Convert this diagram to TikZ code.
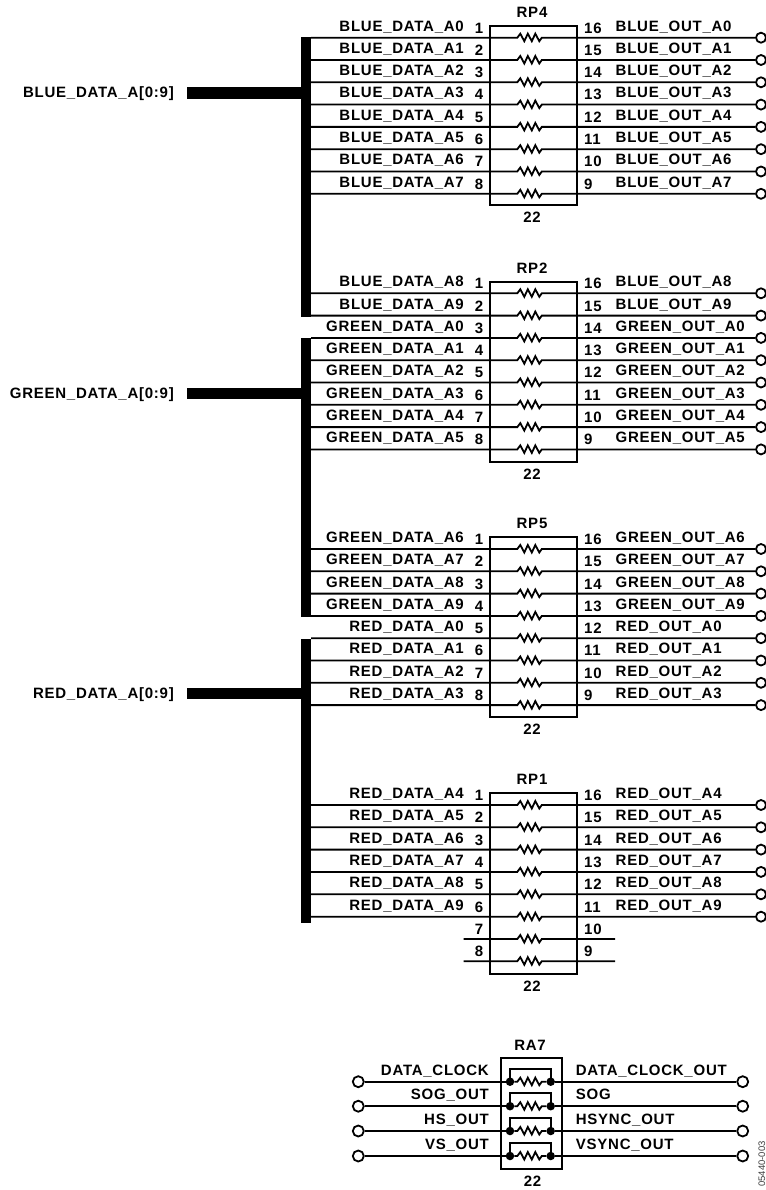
\documentclass[tikz,border=0pt]{standalone}
\usepackage{fontspec}
\setmainfont{Liberation Sans}[BoldFont={Liberation Sans Bold}]
\newfontfamily\lblfont{Liberation Sans Bold}[LetterSpace=5]
\newfontfamily\smallfont{Liberation Sans}
\tikzset{
  wire/.style={line width=1.8pt,line join=miter},
  partbox/.style={draw,line width=1.8pt,minimum width=87pt,anchor=north west,inner sep=0pt},
  lbl/.style={inner sep=0pt,font=\lblfont\fontsize{15}{15}\selectfont},
  lblR/.style={lbl,anchor=base east},
  lblL/.style={lbl,anchor=base west},
  lblC/.style={lbl,anchor=base},
  busbar/.style={fill=black,inner sep=0pt,minimum width=10.5pt,anchor=north west},
  stub/.style={line width=11.4pt},
  term/.style={circle,draw,line width=1.8pt,fill=white,inner sep=0pt,minimum size=10pt},
  termbig/.style={circle,draw,line width=1.8pt,fill=white,inner sep=0pt,minimum size=11pt},
  dotn/.style={circle,fill=black,inner sep=0pt,minimum size=8.5pt},
}
\newcommand{\zigz}{-- ++(3,-4) -- ++(4,7.5) -- ++(3.5,-7.5) -- ++(4,7.5) -- ++(3.5,-7.5) -- ++(4,7.5) -- ++(2.5,-3.5)}
% name, y, left label, left num, right num, right label
\newcommand{\drow}[6]{%
  \coordinate (#1a) at (311,#2);
  \coordinate (#1b) at (517.3,#2);
  \coordinate (#1c) at (541.8,#2);
  \node[term] (#1t) at (761,#2) {};
  \draw[wire] (#1a) -- (#1b) \zigz -- (#1t.west);
  \node[lblR] (#1l) at (464,#2-6.6) {#3};
  \node[lblC] (#1n) at (479,#2-4.6) {#4};
  \node[lblL] (#1m) at (584,#2-4.6) {#5};
  \node[lblL] (#1r) at (615.5,#2-6.6) {#6};
}
% name, y, left num, right num (no connection)
\newcommand{\nrow}[4]{%
  \coordinate (#1a) at (463.5,#2);
  \coordinate (#1b) at (517.3,#2);
  \coordinate (#1d) at (615,#2);
  \draw[wire] (#1a) -- (#1b) \zigz -- (#1d);
  \node[lblC] (#1n) at (479,#2-4.6) {#3};
  \node[lblL] (#1m) at (584,#2-4.6) {#4};
}
% name, y, left label, right label
\newcommand{\arow}[4]{%
  \node[termbig] (#1p) at (358.3,#2) {};
  \node[termbig] (#1q) at (742.7,#2) {};
  \node[dotn] (#1u) at (510,#2) {};
  \node[dotn] (#1v) at (550.7,#2) {};
  \coordinate (#1b) at (517.3,#2);
  \draw[wire] (#1p) -- (#1u);
  \draw[wire] (#1u) -- (#1b) \zigz -- (#1v);
  \draw[wire] (#1v) -- (#1q);
  \draw[wire] (#1u.center) -- ++(0,-13) -| (#1v.center);
  \node[lblR] (#1l) at (489,#2-6.7) {#3};
  \node[lblL] (#1r) at (575.7,#2-6.7) {#4};
}
\begin{document}
\begin{tikzpicture}[x=1pt,y=-1pt]
\useasboundingbox (0,0) rectangle (765,1190);
% resistor packs
\node[partbox,minimum height=179pt] (RPfour) at (489,25) {};
\node[partbox,minimum height=180pt] (RPtwo) at (489,281) {};
\node[partbox,minimum height=180pt] (RPfive) at (489,536) {};
\node[partbox,minimum height=181pt] (RPone) at (489,792) {};
\node[lblC] (tRPfour) at (532,17.7) {RP4};
\node[lblC] (tRPtwo) at (532,273) {RP2};
\node[lblC] (tRPfive) at (532,528.5) {RP5};
\node[lblC] (tRPone) at (532,784.5) {RP1};
\node[lblC] (vRPfour) at (532,222.7) {22};
\node[lblC] (vRPtwo) at (532,479) {22};
\node[lblC] (vRPfive) at (532,734.5) {22};
\node[lblC] (vRPone) at (532,991) {22};
% busses
\node[busbar,minimum height=280pt] (busB) at (300.5,37) {};
\node[busbar,minimum height=279pt] (busG) at (300.5,338) {};
\node[busbar,minimum height=284pt] (busR) at (300.5,639) {};
\coordinate (stB) at (187,93);
\coordinate (stG) at (187,393.5);
\coordinate (stR) at (187,693.5);
\draw[stub] (stB) -- (stB -| busB.west);
\draw[stub] (stG) -- (stG -| busG.west);
\draw[stub] (stR) -- (stR -| busR.west);
\node[lblR] (lB) at (174,97.7) {BLUE\_DATA\_A[0:9]};
\node[lblR] (lG) at (174,398) {GREEN\_DATA\_A[0:9]};
\node[lblR] (lR) at (174,698) {RED\_DATA\_A[0:9]};
% RP4
\drow{bA}{37.7}{BLUE\_DATA\_A0}{1}{16}{BLUE\_OUT\_A0}
\drow{bB}{60}{BLUE\_DATA\_A1}{2}{15}{BLUE\_OUT\_A1}
\drow{bC}{82.3}{BLUE\_DATA\_A2}{3}{14}{BLUE\_OUT\_A2}
\drow{bD}{104.6}{BLUE\_DATA\_A3}{4}{13}{BLUE\_OUT\_A3}
\drow{bE}{126.9}{BLUE\_DATA\_A4}{5}{12}{BLUE\_OUT\_A4}
\drow{bF}{149.2}{BLUE\_DATA\_A5}{6}{11}{BLUE\_OUT\_A5}
\drow{bG}{171.5}{BLUE\_DATA\_A6}{7}{10}{BLUE\_OUT\_A6}
\drow{bH}{193.8}{BLUE\_DATA\_A7}{8}{9}{BLUE\_OUT\_A7}
% RP2
\drow{cA}{293.3}{BLUE\_DATA\_A8}{1}{16}{BLUE\_OUT\_A8}
\drow{cB}{315.6}{BLUE\_DATA\_A9}{2}{15}{BLUE\_OUT\_A9}
\drow{cC}{337.9}{GREEN\_DATA\_A0}{3}{14}{GREEN\_OUT\_A0}
\drow{cD}{360.2}{GREEN\_DATA\_A1}{4}{13}{GREEN\_OUT\_A1}
\drow{cE}{382.5}{GREEN\_DATA\_A2}{5}{12}{GREEN\_OUT\_A2}
\drow{cF}{404.8}{GREEN\_DATA\_A3}{6}{11}{GREEN\_OUT\_A3}
\drow{cG}{427.1}{GREEN\_DATA\_A4}{7}{10}{GREEN\_OUT\_A4}
\drow{cH}{449.4}{GREEN\_DATA\_A5}{8}{9}{GREEN\_OUT\_A5}
% RP5
\drow{dA}{549}{GREEN\_DATA\_A6}{1}{16}{GREEN\_OUT\_A6}
\drow{dB}{571.3}{GREEN\_DATA\_A7}{2}{15}{GREEN\_OUT\_A7}
\drow{dC}{593.6}{GREEN\_DATA\_A8}{3}{14}{GREEN\_OUT\_A8}
\drow{dD}{615.9}{GREEN\_DATA\_A9}{4}{13}{GREEN\_OUT\_A9}
\drow{dE}{638.2}{RED\_DATA\_A0}{5}{12}{RED\_OUT\_A0}
\drow{dF}{660.5}{RED\_DATA\_A1}{6}{11}{RED\_OUT\_A1}
\drow{dG}{682.8}{RED\_DATA\_A2}{7}{10}{RED\_OUT\_A2}
\drow{dH}{705.1}{RED\_DATA\_A3}{8}{9}{RED\_OUT\_A3}
% RP1
\drow{eA}{805}{RED\_DATA\_A4}{1}{16}{RED\_OUT\_A4}
\drow{eB}{827.3}{RED\_DATA\_A5}{2}{15}{RED\_OUT\_A5}
\drow{eC}{849.6}{RED\_DATA\_A6}{3}{14}{RED\_OUT\_A6}
\drow{eD}{871.9}{RED\_DATA\_A7}{4}{13}{RED\_OUT\_A7}
\drow{eE}{894.3}{RED\_DATA\_A8}{5}{12}{RED\_OUT\_A8}
\drow{eF}{916.7}{RED\_DATA\_A9}{6}{11}{RED\_OUT\_A9}
\nrow{eG}{939}{7}{10}
\nrow{eH}{961.2}{8}{9}
% RA7
\node[partbox,minimum width=60.5pt,minimum height=111.5pt] (RAseven) at (500.3,1056.7) {};
\node[lblC] (tRA) at (530,1050) {RA7};
\node[lblC] (vRA) at (532.5,1186.5) {22};
\arow{fA}{1081.7}{DATA\_CLOCK}{DATA\_CLOCK\_OUT}
\arow{fB}{1106.2}{SOG\_OUT}{SOG}
\arow{fC}{1131}{HS\_OUT}{HSYNC\_OUT}
\arow{fD}{1156}{VS\_OUT}{VSYNC\_OUT}
\node[rotate=90,anchor=base west,inner sep=0pt,text=black!75,font=\smallfont\fontsize{9.5}{10}\selectfont] (code) at (765,1187) {05440-003};
\end{tikzpicture}
\end{document}
